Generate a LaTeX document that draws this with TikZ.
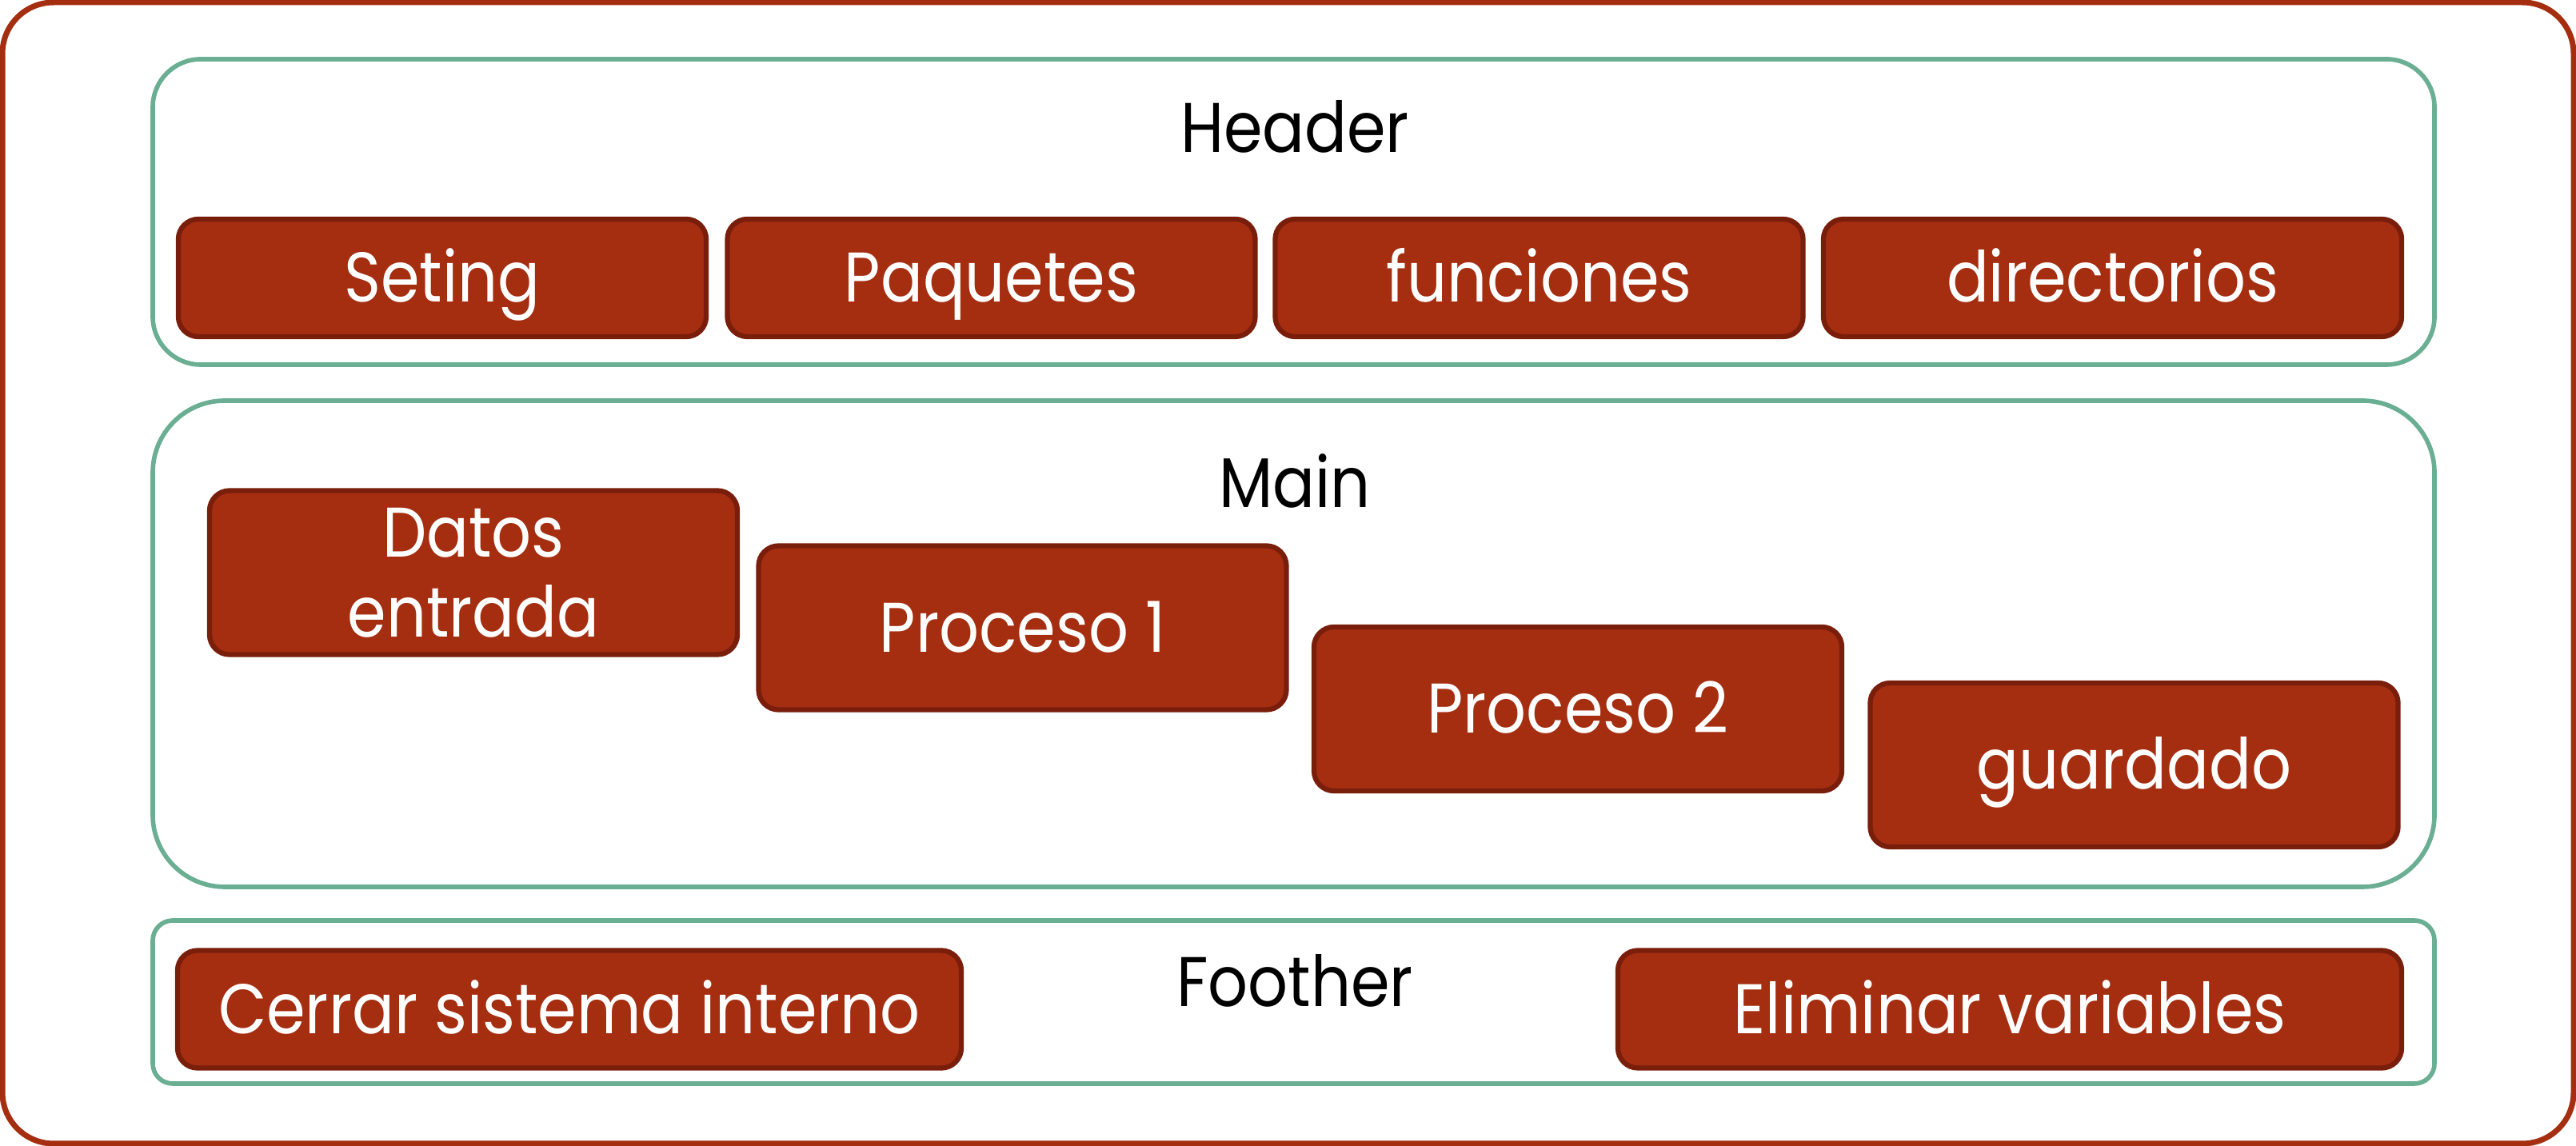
\documentclass[tikz,border=0pt]{standalone}
\usepackage{fontspec}
\usepackage{tikz}
\usetikzlibrary{positioning}
\newfontfamily\gothic[FakeStretch=0.89]{Poppins}
\definecolor{rust}{HTML}{A52E11}
\definecolor{rustdark}{HTML}{7A1E0C}
\definecolor{sage}{HTML}{6AAE93}
\tikzset{
	frame/.style={draw=rust, line width=2pt, rounded corners=0.64cm, minimum width=32.15cm, minimum height=14.27cm, inner sep=0pt},
	group/.style={draw=sage, line width=1.6pt, minimum width=28.53cm, inner sep=0pt},
	title/.style={anchor=base, font=\gothic\fontsize{25}{28.45}\selectfont},
	block/.style={draw=rustdark, fill=rust, line width=1.8pt, rounded corners=0.25cm, text=white, inner sep=0pt,
		text height=0.61cm, text depth=0pt, minimum width=6.6cm, minimum height=1.47cm,
		font=\gothic\fontsize{25}{28.45}\selectfont},
}

\begin{document}
\begin{tikzpicture}[x=1cm, y=-1cm]
	\useasboundingbox (0,0) rectangle (32.21,14.33);
	\node[frame] (frame) at (16.105,7.165) {};
	\node[group, minimum height=3.82cm, rounded corners=0.6cm] (header) at (16.175,2.65) {};
	\node[group, minimum height=6.08cm, rounded corners=0.9cm] (main) at (16.175,8.05) {};
	\node[group, minimum height=2.04cm, rounded corners=0.25cm] (footer) at (16.175,12.53) {};

	\node[title] (headertitle) at (16.19,1.91) {Header};
	\node[title] (maintitle) at (16.19,6.35) {Main};
	\node[title] (footertitle) at (16.19,12.59) {Foother};

	\node[block] (seting) at (5.53,3.475) {Seting};
	\node[block] (paquetes) at (12.395,3.475) {Paquetes};
	\node[block] (funciones) at (19.245,3.475) {funciones};
	\node[block, minimum width=7.23cm] (directorios) at (26.415,3.475) {directorios};

	\node[block, minimum height=2.05cm, align=center, text height={}, text depth={}] (datos) at (5.92,7.16) {Datos\\entrada};
	\node[block, minimum height=2.05cm] (proceso1) at (12.785,7.85) {Proceso 1};
	\node[block, minimum height=2.05cm] (proceso2) at (19.73,8.865) {Proceso 2};
	\node[block, minimum height=2.05cm] (guardado) at (26.685,9.565) {guardado};

	\node[block, minimum width=9.8cm] (cerrar) at (7.12,12.62) {Cerrar sistema interno};
	\node[block, minimum width=9.8cm] (eliminar) at (25.13,12.62) {Eliminar variables};
\end{tikzpicture}
\end{document}
